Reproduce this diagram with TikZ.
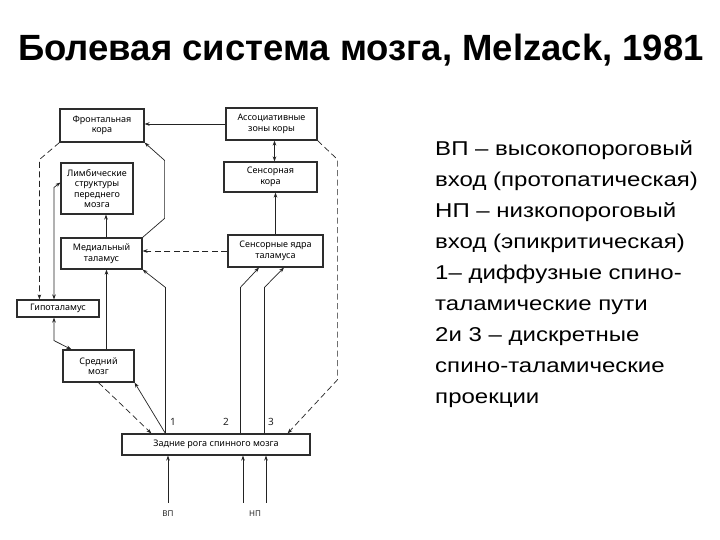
\documentclass[tikz,border=0pt]{standalone}
\usepackage{fontspec}
\setmainfont{Liberation Sans}
\newfontfamily\boxfont{Noto Sans}
\usetikzlibrary{arrows.meta}
\definecolor{cLine}{RGB}{35,35,35}
\definecolor{cBox} {RGB}{45,45,45}
\tikzset{
  B/.style   = {draw=cBox, line width=1.2pt, inner sep=0pt, align=center,
                font=\boxfont\fontsize{9}{10.5}\selectfont},
  A/.style   = {-{Stealth[length=5pt,width=3.6pt]}, line width=0.7pt, draw=cLine},
  AA/.style  = {{Stealth[length=5pt,width=3.6pt]}-{Stealth[length=5pt,width=3.6pt]},
                line width=0.7pt, draw=cLine},
  D/.style   = {dash pattern=on 6pt off 3.5pt},
  num/.style = {font=\boxfont\fontsize{10}{10}\selectfont, text=cLine},
  inp/.style = {font=\boxfont\fontsize{8}{8}\selectfont, text=cLine},
}

\begin{document}
\begin{tikzpicture}[x=1pt,y=-1pt]
\fill[white] (0,0) rectangle (720,540);
\useasboundingbox (0,0) rectangle (720,540);

%% ─── Title ───────────────────────────────────────────────────────
\node[font=\bfseries\fontsize{36.5}{36.5}\selectfont] (title) at (361,50)
  {Болевая система мозга, Melzack, 1981};

%% ─── cortex ──────────────────────────────────────────────────────
\node[B, minimum width=84, minimum height=33] (front) at (102,125.5)
  {Фронтальная\\кора};
\node[B, minimum width=91, minimum height=32] (assoc) at (271.5,124)
  {Ассоциативные\\зоны коры};
\node[B, minimum width=93, minimum height=30] (senscx) at (270.5,177)
  {Сенсорная\\кора};
\node[B, minimum width=72, minimum height=51] (limb) at (97,188.5)
  {Лимбические\\структуры\\переднего\\мозга};

%% ─── thalamus, hypothalamus, midbrain ───────────────────────────
\node[B, minimum width=81, minimum height=31] (medth) at (101.5,253.5)
  {Медиальный\\таламус};
\node[B, minimum width=95, minimum height=32] (sensth) at (275.5,251)
  {Сенсорные ядра\\таламуса};
\node[B, minimum width=82, minimum height=17] (hypo) at (58,308.5)
  {Гипоталамус};
\node[B, minimum width=71, minimum height=32] (mid) at (98.5,366)
  {Средний\\мозг};

%% ─── spinal cord ─────────────────────────────────────────────────
\node[B, minimum width=188, minimum height=21] (horn) at (216,444.5)
  {Задние рога спинного мозга};

\coordinate (p1) at ([xshift=44]horn.north west);
\coordinate (p2) at ([xshift=119]horn.north west);
\coordinate (p3) at ([xshift=143]horn.north west);

\node[num] (n1) at (173,422) {1};
\node[num] (n2) at (226,422) {2};
\node[num] (n3) at (271,422) {3};

\node[inp] (vp) at (168,514) {ВП};
\node[inp] (np) at (255,514) {НП};

%% inputs
\draw[A] ([yshift=5]vp.north) -- (vp.north |- horn.south);
\draw[A] ([xshift=-12,yshift=5]np.north) -- ([xshift=-12]np.north |- horn.south);
\draw[A] ([xshift=11,yshift=5]np.north) -- ([xshift=11]np.north |- horn.south);

%% ─── ascending paths ─────────────────────────────────────────────
\draw[A] (p1) -- ++(0,-146) -- (medth.south east);
\draw[A] (p1) -- (mid.south east);
\draw[A] (p2) -- ++(0,-146) -- ([xshift=-16.5]sensth.south);
\draw[A] (p3) -- ++(0,-146) -- ([xshift=8.5]sensth.south);

\draw[A] ([xshift=8]mid.north) -- ([xshift=8]mid.north |- medth.south);
\draw[A] ([xshift=4.5]medth.north) -- ([xshift=4.5]medth.north |- limb.south);
\draw[A] (sensth.north) -- (sensth.north |- senscx.south);
\draw[AA] ([xshift=3]assoc.south) -- ([xshift=3]assoc.south |- senscx.north);

\draw[A] (medth.north east) -- ++(22,-19) -- ++(0,-58) -- (front.south east);
\draw[A] (assoc.west) -- (assoc.west -| front.east);

\draw[AA] ([xshift=-4]hypo.north) -- ++(0,-112) -- ([yshift=6]limb.west);
\draw[AA] ([xshift=-4]hypo.south) -- ++(0,23) -- ([xshift=9]mid.north west);

%% ─── descending (dashed) paths ───────────────────────────────────
\draw[A, D] (sensth.west) -- (sensth.west -| medth.east);
\draw[A, D] (front.south west) -- ++(-20,17) coordinate (dl) -- (dl |- hypo.north);
\draw[A, D] (mid.south) -- ([xshift=30]horn.north west);
\draw[A, D] (assoc.south east) -- ++(20,19) -- ++(0,220) -- ([xshift=-23]horn.north east);

%% ─── legend ──────────────────────────────────────────────────────
\node[anchor=north west, align=left, inner sep=0pt, xscale=1.2,
      font=\fontsize{20}{31}\selectfont] (legend) at (435,140)
  {ВП – высокопороговый\\
   вход (протопатическая)\\
   НП – низкопороговый\\
   вход (эпикритическая)\\
   1– диффузные спино-\\
   таламические пути\\
   2и 3 – дискретные\\
   спино-таламические\\
   проекции};

\end{tikzpicture}
\end{document}
